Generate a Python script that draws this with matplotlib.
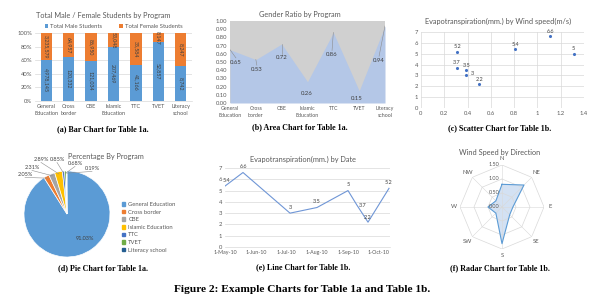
import numpy as np
import pandas as pd
import matplotlib
matplotlib.use("Agg")
import matplotlib.pyplot as plt
import matplotlib.dates as mdates
from matplotlib.patches import Patch

# ---- data ----
programs = ["General\nEducation", "Cross\nborder", "CBE", "Islamic\nEducation", "TTC", "TVET", "Literacy\nschool"]
program_names = ["General Education", "Cross border", "CBE", "Islamic Education", "TTC", "TVET", "Literacy school"]
male = [4978145, 120332, 121034, 207469, 41166, 52857, 8742]
female = [3235579, 64957, 86950, 53048, 35584, 8147, 8247]
gender_ratio = [0.65, 0.53, 0.72, 0.26, 0.86, 0.15, 0.94]
pie_pct = [91.03, 2.05, 2.31, 2.89, 0.85, 0.68, 0.19]

wind_speed = [0.81, 1.11, 0.39, 0.39, 1.31, 0.31, 0.50, 0.31]
evapo = [5.4, 6.6, 3.0, 3.5, 5.0, 3.7, 2.2, 5.2]
dates = ["2010-05-01", "2010-05-19", "2010-07-05", "2010-08-01",
         "2010-09-01", "2010-09-10", "2010-09-21", "2010-10-12"]
directions = ["N", "NE", "E", "SE", "S", "SW", "W", "NW"]

W, H = 602, 304
plt.rcParams['font.family'] = ['Lato', 'DejaVu Sans']
fig = plt.figure(figsize=(W / 100, H / 100), dpi=100)

TXT = "#595959"
LBL = "#404040"
GRID = "#D9D9D9"
BLUE = "#5B9BD5"
ORANGE = "#ED7D31"


def box(x0, y0, x1, y1):
    return [x0 / W, 1 - y1 / H, (x1 - x0) / W, (y1 - y0) / H]


def ftext(x, y, s, **kw):
    fig.text(x / W, 1 - y / H, s, **kw)


def caption(x, y, s, size=5.8):
    ftext(x, y, s, ha="center", va="center", fontsize=size,
          family="Liberation Serif", fontweight="bold")


def clean(ax):
    for s in ax.spines.values():
        s.set_visible(False)
    ax.tick_params(length=0, labelsize=4.2, colors=TXT, pad=2)


# ---- (a) stacked 100% bar ----
ax = fig.add_axes(box(35, 33, 192, 101))
clean(ax)
tot = np.array(male) + np.array(female)
mp = np.array(male) / tot
fp = np.array(female) / tot
x = np.arange(len(programs))
ax.bar(x, mp, 0.5, color=BLUE, label="Total Male Students", zorder=2)
ax.bar(x, fp, 0.5, bottom=mp, color=ORANGE, label="Total Female Students", zorder=2)
for i in x:
    ax.text(i, mp[i] / 2, f"{male[i]:,}", rotation=270, ha="center", va="center", fontsize=3.8, color=LBL)
    ax.text(i, mp[i] + fp[i] / 2, f"{female[i]:,}", rotation=270, ha="center", va="center", fontsize=3.8, color=LBL)
ax.set_xlim(-0.5, 6.5)
ax.set_ylim(0, 1)
ax.set_yticks(np.arange(0, 1.01, 0.2))
ax.set_yticklabels([f"{int(round(v*100))}%" for v in np.arange(0, 1.01, 0.2)])
ax.set_xticks(x)
ax.set_xticklabels(programs, fontsize=4, linespacing=1.5)
ax.grid(axis="y", color=GRID, lw=0.5, zorder=0)
ax.spines["bottom"].set_visible(True)
ax.spines["bottom"].set_color(GRID)
ax.spines["bottom"].set_linewidth(0.5)
ax.legend(ncol=2, loc="lower center", bbox_to_anchor=(0.5, 1.02), frameon=False,
          fontsize=4.2, handlelength=0.6, handleheight=0.6, handletextpad=0.3,
          columnspacing=3, labelcolor=TXT, borderpad=0)
ftext(103, 15.5, "Total Male / Female Students by Program", ha="center", va="center", fontsize=5.3, color=TXT)
caption(103, 129, "(a) Bar Chart for Table 1a.")

# ---- (b) area chart ----
ax = fig.add_axes(box(230, 21, 385, 103))
clean(ax)
xb = np.arange(len(programs))
ax.fill_between(xb, 0, 1, color="#D0D0D0", lw=0)
ax.fill_between(xb, 0, gender_ratio, color="#B4C7E7", lw=0)
ax.set_xlim(0, 6)
ax.set_ylim(0, 1)
ax.set_yticks(np.arange(0, 1.001, 0.1))
ax.set_yticklabels([f"{v:.2f}" for v in np.arange(0, 1.001, 0.1)])
ax.set_xticks(xb)
ax.set_xticklabels(programs, fontsize=3.8, linespacing=1.5)
lab_pos = [(0.23, 0.50), (1.04, 0.41), (2.0, 0.55), (2.98, 0.11), (3.95, 0.59), (4.9, 0.06), (5.77, 0.52)]
for i, (lx, ly) in enumerate(lab_pos):
    ax.text(lx, ly, f"{gender_ratio[i]:.2f}", ha="center", va="center", fontsize=4.3, color=LBL)
    if i not in (3, 5):
        ax.plot([lx, xb[i]], [ly + 0.05, gender_ratio[i]], color="#8C8C8C", lw=0.4)
ftext(300, 14, "Gender Ratio by Program", ha="center", va="center", fontsize=5.3, color=TXT)
caption(300, 127, "(b) Area Chart for Table 1a.")

# ---- (c) scatter ----
ax = fig.add_axes(box(421, 32, 584, 108))
clean(ax)
ax.scatter(wind_speed, evapo, s=5, color="#4472C4", zorder=3, lw=0)
for ws, ev in zip(wind_speed, evapo):
    lbl = f"{ev:g}"
    if lbl == "3":
        ax.annotate(lbl, (ws, ev), xytext=(3, 1.5), textcoords="offset points", fontsize=4, color=LBL, va="center")
    else:
        ax.annotate(lbl, (ws, ev), xytext=(0, 2.5), textcoords="offset points", fontsize=4, color=LBL, ha="center")
ax.set_xlim(0, 1.4)
ax.set_ylim(0, 7)
xt = np.arange(0, 1.41, 0.2)
ax.set_xticks(xt)
ax.set_xticklabels([f"{v:g}" for v in np.round(xt, 1)])
ax.set_yticks(range(8))
ax.grid(color=GRID, lw=0.5, zorder=0)
ftext(498, 21, "Evapotranspiration(mm.) by Wind speed(m/s)", ha="center", va="center", fontsize=5.3, color=TXT)
caption(500, 128, "(c) Scatter Chart for Table 1b.")

# ---- (d) pie ----
pie_colors = ["#5B9BD5", "#ED7D31", "#A5A5A5", "#FFC000", "#4472C4", "#70AD47", "#255E91"]
cx, cy, r = 67, 214, 43
ax = fig.add_axes(box(cx - r, cy - r, cx + r, cy + r))
wedges, _ = ax.pie(pie_pct, colors=pie_colors, startangle=90, counterclock=False,
                   wedgeprops=dict(edgecolor="white", lw=0.5))
ax.set_xlim(-1, 1)
ax.set_ylim(-1, 1)
ax.set_aspect("equal")
lbl_px = [(85, 238), (25, 174), (32, 167), (41, 159), (57, 159), (75, 163), (92, 168)]
for i, w in enumerate(wedges):
    lx, ly = (lbl_px[i][0] - cx) / r, (cy - lbl_px[i][1]) / r
    ax.text(lx, ly, f"{pie_pct[i]:.2f}%", ha="center", va="center", fontsize=4, color=LBL, clip_on=False)
    if i > 0:
        mid = np.deg2rad((w.theta1 + w.theta2) / 2)
        ex, ey = 0.95 * np.cos(mid), 0.95 * np.sin(mid)
        ax.plot([ex, lx], [ey, ly - 0.08], color="#8C8C8C", lw=0.4, clip_on=False)
ftext(68, 156, "Percentage By Program", ha="left", va="center", fontsize=5.3, color=TXT)
handles = [Patch(color=c) for c in pie_colors]
fig.legend(handles, program_names, loc="upper left", bbox_to_anchor=(119 / W, 1 - 199 / H),
           frameon=False, fontsize=4.2, handlelength=0.6, handleheight=0.6, handletextpad=0.5,
           labelspacing=0.45, labelcolor=TXT, borderpad=0)
caption(103, 268, "(d) Pie Chart for Table 1a.")

# ---- (e) line ----
ax = fig.add_axes(box(225, 168, 390, 247))
clean(ax)
d = pd.to_datetime(dates)
ax.plot(d, evapo, color="#6F96D6", lw=0.8)
offs = [(1, 2), (0, 2.5), (0, 2.5), (0, 2.5), (0, 2.5), (4, -2), (0, 1.5), (0, 2.5)]
for dd, ev, o in zip(d, evapo, offs):
    ax.annotate(f"{ev:g}", (dd, ev), xytext=o, textcoords="offset points", fontsize=4,
                color=LBL, ha="center", va="bottom")
ax.set_xlim(pd.Timestamp("2010-05-01"), pd.Timestamp("2010-10-13"))
ax.set_ylim(0, 7)
ax.set_yticks(range(8))
ax.xaxis.set_major_locator(mdates.MonthLocator())
ax.xaxis.set_major_formatter(mdates.DateFormatter("%-d-%b-%y"))
ax.tick_params(axis="x", labelsize=3.8)
ax.grid(axis="y", color=GRID, lw=0.5)
ax.spines["bottom"].set_visible(True)
ax.spines["bottom"].set_color(GRID)
ax.spines["bottom"].set_linewidth(0.5)
ftext(303, 159, "Evapotranspiration(mm.) by Date", ha="center", va="center", fontsize=5.3, color=TXT)
caption(303, 267, "(e) Line Chart for Table 1b.")

# ---- (f) radar ----
rcx, rcy, rr = 502, 207, 42
ax = fig.add_axes(box(rcx - rr, rcy - rr, rcx + rr, rcy + rr), projection="polar")
ax.set_theta_zero_location("N")
ax.set_theta_direction(-1)
theta = np.linspace(0, 2 * np.pi, len(directions), endpoint=False)
tc = np.append(theta, theta[0])
for lev in (0.5, 1.0, 1.5):
    ax.plot(tc, [lev] * len(tc), color=GRID, lw=0.5)
for t in theta:
    ax.plot([t, t], [0, 1.5], color=GRID, lw=0.4)
vals = np.append(wind_speed, wind_speed[0])
ax.fill(tc, vals, color="#C9DAF0", alpha=0.8, lw=0)
ax.plot(tc, vals, color="#5B9BD5", lw=0.8)
ax.set_ylim(0, 1.5)
ax.grid(False)
ax.spines["polar"].set_visible(False)
ax.set_xticks([])
ax.set_yticks([])
ax.patch.set_alpha(0)
for lev in (0.0, 0.5, 1.0, 1.5):
    ax.annotate(f"{lev:.2f}", (0, lev), xytext=(-2, 0), textcoords="offset points",
                ha="right", va="center", fontsize=4, color=TXT)
for t, name in zip(theta, directions):
    ax.text(t, 1.72, name, ha="center", va="center", fontsize=4.2, color=TXT, clip_on=False)
ftext(500, 152, "Wind Speed by Direction", ha="center", va="center", fontsize=5.3, color=TXT)
caption(500, 268, "(f) Radar Chart for Table 1b.")

caption(302, 290, "Figure 2: Example Charts for Table 1a and Table 1b.", size=8.2)

fig.savefig("out.png", dpi=100)
